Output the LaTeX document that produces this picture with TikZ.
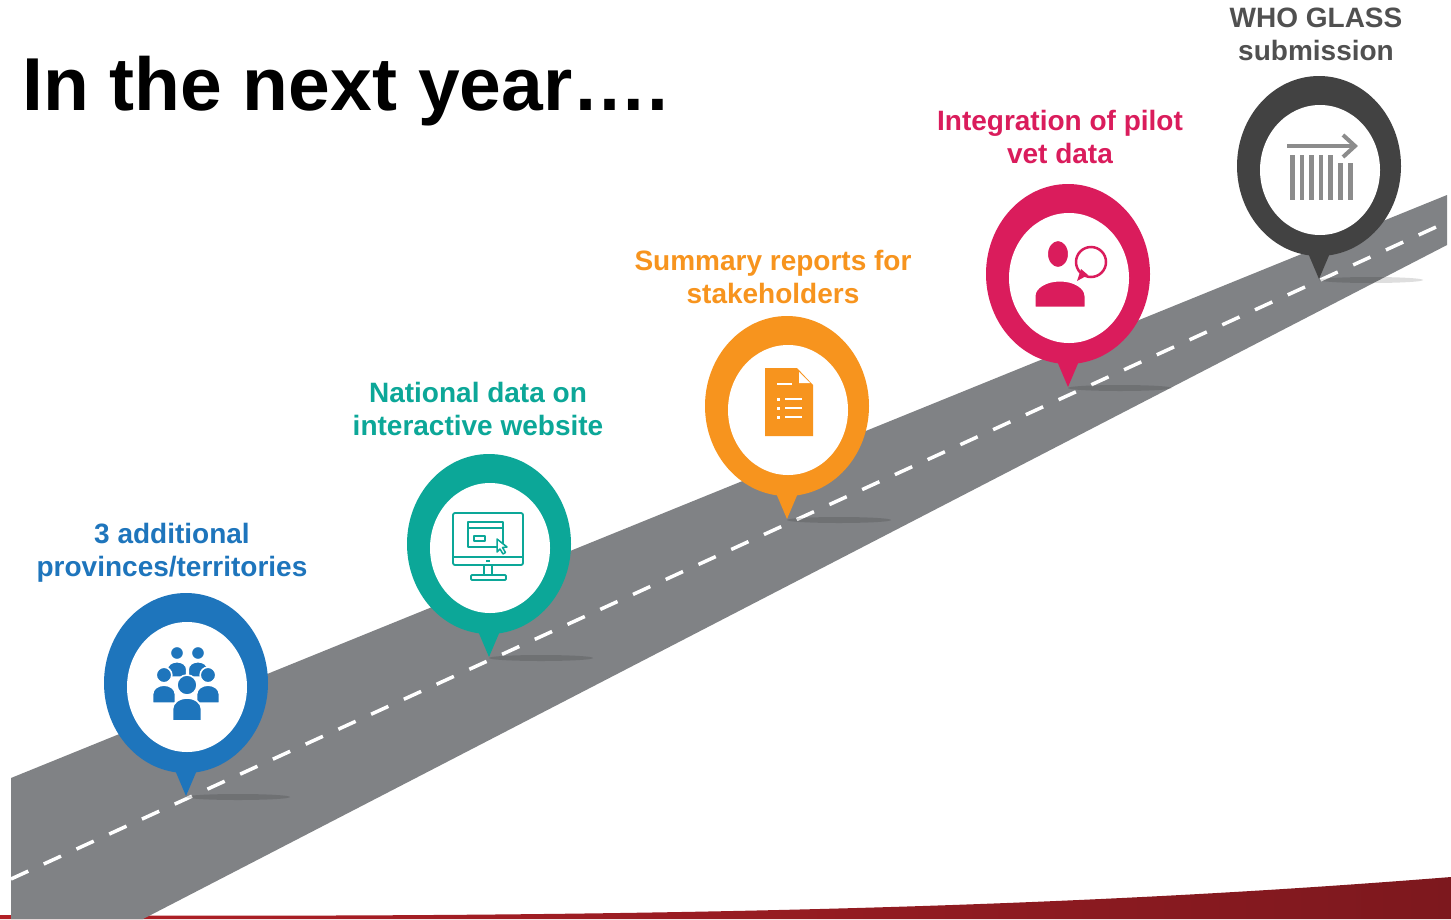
\documentclass[tikz,border=0pt]{standalone}
\usepackage{fontspec}
\setmainfont{Liberation Sans}
\usetikzlibrary{positioning}

\definecolor{pinblue}{RGB}{30,117,188}
\definecolor{pinteal}{RGB}{12,167,152}
\definecolor{pinorange}{RGB}{247,148,30}
\definecolor{pincrimson}{RGB}{218,28,92}
\definecolor{pingray}{RGB}{66,66,66}
\definecolor{glassgray}{RGB}{140,140,140}
\definecolor{roadgray}{RGB}{128,130,133}
\definecolor{textgray}{RGB}{80,80,80}
\definecolor{bandred}{RGB}{178,32,38}
\definecolor{banddark}{RGB}{125,24,30}

\tikzset{milestone/.style={font=\bfseries\fontsize{28}{33}\selectfont,align=center,inner sep=0pt},
    road shadow/.style={fill=black,opacity=0.13},
    person/.style={fill=pinblue,draw=white,line width=1.6pt},
    outline icon/.style={draw=pinteal,line width=1.8pt,line join=round}}

% one member of the crowd: head centre x, y and head radius
\newcommand{\bust}[3]{%
  \filldraw[person] (#1-#3*1.45,#2+#3*3.6) -- (#1-#3*1.45,#2+#3*2.4)
    arc [start angle=180,end angle=360,x radius=#3*1.45,y radius=#3*1.1]
    -- (#1+#3*1.45,#2+#3*3.6) -- cycle;
  \filldraw[person] (#1,#2) circle [radius=#3];}

\begin{document}
\begin{tikzpicture}[x=1pt,y=-1pt]

  \useasboundingbox (0,0) rectangle (1451,919);
  \fill[white] (0,0) rectangle (1451,919);

  % red band along the bottom
  \shade[left color=bandred,right color=banddark]
    (0,919) -- (0,915) .. controls (700,919) and (1100,905) .. (1451,877) -- (1451,919) -- cycle;

  % the road and its centre line
  \fill[roadgray] (11,778) -- (1447,195) -- (1447,245) -- (143,919) -- (11,919) -- cycle;
  \draw[white,line width=3.5pt,dash pattern=on 19pt off 17pt] (11,879) -- (1447,222);

  % title
  \node[anchor=base west,inner sep=0pt,font=\bfseries\fontsize{75}{80}\selectfont] (title) at (22,110) {In the next year….};

  % First we draw the pins
  \foreach \px/\py/\name/\col in {186/683/addl/pinblue, 489/544/web/pinteal,
                                  787/406/reports/pinorange, 1068/274/vet/pincrimson,
                                  1319/166/glass/pingray}
  {
    \coordinate (\name) at (\px,\py);
    \fill[road shadow] (\px,\py) ++(52,114) ellipse [x radius=52,y radius=3];
    \fill[\col] (\px,\py) ++(-14,80) -- ++(14,33) -- ++(14,-33) -- cycle;
    \fill[\col] (\px,\py) ellipse [x radius=82,y radius=90];
    \fill[white] (\px,\py) ++(1,4) ellipse [x radius=60,y radius=65];
  }

  % Then the labels above them
  \node[milestone,text=pinblue] (addl text) at (172,553) {3 additional\\provinces/territories};
  \node[milestone,text=pinteal] (web text) at (478,409) {National data on\\interactive website};
  \node[milestone,text=pinorange] (reports text) at (773,277) {Summary reports for\\stakeholders};
  \node[milestone,text=pincrimson] (vet text) at (1060,137) {Integration of pilot\\vet data};
  \node[milestone,text=textgray] (glass text) at (1316,34) {WHO GLASS\\submission};

  % crowd of people
  \bust{177}{653}{6.7}
  \bust{198}{653}{6.7}
  \bust{164}{675}{7.8}
  \bust{208}{675}{7.8}
  \bust{187}{685}{10}

  % monitor with a browser window
  \begin{scope}[outline icon]
    \draw[rounded corners=2pt] (453,513) rectangle (523,565);
    \draw (453,557) -- (523,557);
    \draw (486,561) -- (490,561);
    \draw (484,565) -- (484,575) (492,565) -- (492,575);
    \draw[rounded corners=1pt] (471,575) rectangle (506,580);
    \draw (468,522) rectangle (503,547);
    \draw (468,528) -- (503,528);
    \draw (474,536) rectangle (485,541);
    \filldraw[fill=white,line width=1.5pt] (497,539) -- (497,552) -- (500,549) -- (503,554)
      -- (505.5,552.5) -- (502.5,547.5) -- (507,547) -- cycle;
  \end{scope}

  % document with a bullet list
  \fill[pinorange] (765,368) -- (797,368) -- (813,385) -- (813,436) -- (765,436) -- cycle;
  \fill[white] (799,372) -- (799,383) -- (810,383) -- cycle;
  \draw[white,line width=2.5pt] (777,384) -- (792,384);
  \foreach \y in {399,408,417}
  {
    \fill[white] (776.5,\y-1.5) rectangle (779.5,\y+1.5);
    \draw[white,line width=2.5pt] (785,\y) -- (802,\y);
  }

  % person with a speech bubble
  \draw[pincrimson,line width=2.5pt] (1091,262) circle [radius=15];
  \fill[pincrimson] (1081,269) -- (1077,281) -- (1088,275) -- cycle;
  \filldraw[fill=pincrimson,draw=white,line width=3pt] (1034,308) -- (1034,296)
    arc [start angle=180,end angle=360,x radius=26,y radius=16] -- (1086,308) -- cycle;
  \filldraw[fill=pincrimson,draw=white,line width=3pt] (1058,254) ellipse [x radius=11.5,y radius=14.5];

  % bars with an arrow
  \draw[glassgray,line width=4pt] (1287,146) -- (1352,146);
  \draw[glassgray,line width=4pt] (1343,135) -- (1355,146) -- (1343,157);
  \foreach \x/\top in {1290/155, 1299.5/155, 1309/155, 1318.5/155, 1328/155, 1338/163, 1348/163}
    \fill[glassgray] (\x,\top) rectangle (\x+4.5,200);

\end{tikzpicture}
\end{document}
